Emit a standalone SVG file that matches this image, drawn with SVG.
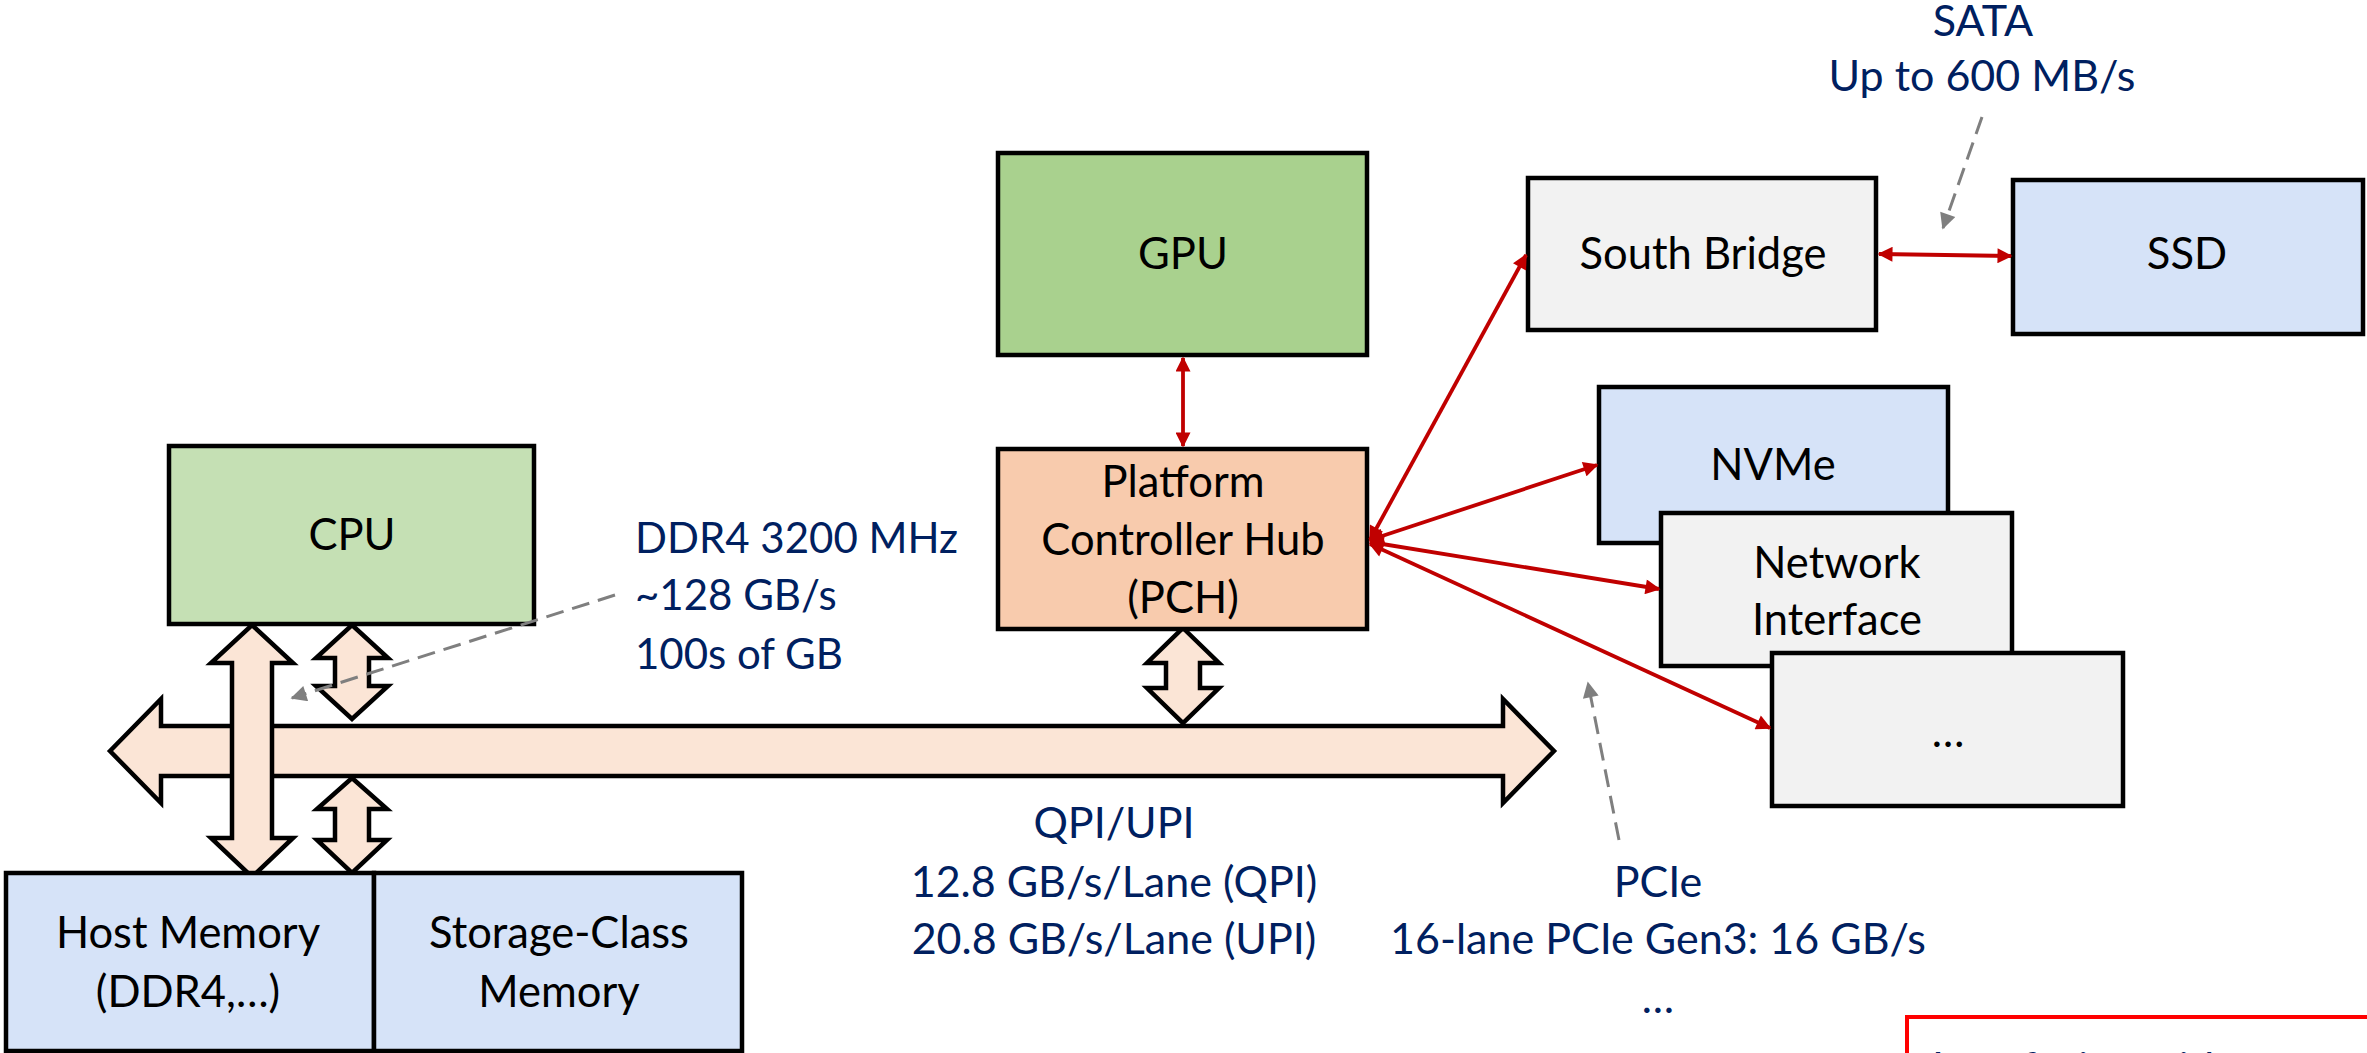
<svg xmlns="http://www.w3.org/2000/svg" width="2367" height="1053" viewBox="0 0 2367 1053">
  <defs>
    <style>
      .box { stroke: #000; stroke-width: 4.5; }
      .lbl { font-family: Lato, "Open Sans", sans-serif; font-size: 43.5px; fill: #000; text-anchor: middle; }
      .note { font-family: Lato, "Open Sans", sans-serif; font-size: 43px; fill: #002060; }
      .ddr { font-size: 42px; }
      .mid { text-anchor: middle; }
      .bus { fill: #FBE5D6; stroke: #000; stroke-width: 4.5; stroke-linejoin: miter; }
      .link { stroke: #C00000; stroke-width: 3.8; fill: none; marker-start: url(#redHead); marker-end: url(#redHead); }
      .hint { stroke: #7F7F7F; stroke-width: 3; stroke-dasharray: 18 9; fill: none; marker-end: url(#greyHead); }
    </style>
    <marker id="redHead" viewBox="0 0 10 10" refX="9" refY="5" markerWidth="17" markerHeight="15" markerUnits="userSpaceOnUse" orient="auto-start-reverse">
      <path d="M0,0 L10,5 L0,10 Z" fill="#C00000"/>
    </marker>
    <marker id="greyHead" viewBox="0 0 10 10" refX="9" refY="5" markerWidth="18" markerHeight="16" markerUnits="userSpaceOnUse" orient="auto">
      <path d="M0,0 L10,5 L0,10 Z" fill="#7F7F7F"/>
    </marker>
  </defs>

  <rect width="2367" height="1053" fill="#fff"/>

  <!-- system bus and block arrows -->
  <g id="buses">
    <polygon class="bus" points="110,751 161,699 161,726 1503,726 1503,699 1554,751 1503,803 1503,776 161,776 161,803"/>
    <polygon class="bus" points="252,625 293,663 272,663 272,838 293,838 252,877 211,838 232,838 232,663 211,663"/>
    <polygon class="bus" points="352,625 388,658 369,658 369,686 388,686 352,719 316,686 335,686 335,658 316,658"/>
    <polygon class="bus" points="352,778 387,809 369,809 369,840 387,840 352,873 317,840 335,840 335,809 317,809"/>
    <polygon class="bus" points="1183,628 1219,663 1200,663 1200,688 1219,688 1183,723 1147,688 1166,688 1166,663 1147,663"/>
  </g>

  <g id="cpu">
    <rect class="box" x="169" y="446" width="365" height="178" fill="#C5E0B4"/>
    <text class="lbl" x="352" y="550">CPU</text>
  </g>

  <g id="gpu">
    <rect class="box" x="998" y="153" width="369" height="202" fill="#A9D18E"/>
    <text class="lbl" x="1183" y="269">GPU</text>
  </g>

  <g id="pch">
    <rect class="box" x="998" y="449" width="369" height="180" fill="#F8CBAD"/>
    <text class="lbl" x="1183" y="497">Platform</text>
    <text class="lbl" x="1183" y="555">Controller Hub</text>
    <text class="lbl" x="1183" y="613">(PCH)</text>
  </g>

  <g id="south-bridge">
    <rect class="box" x="1528" y="178" width="348" height="152" fill="#F2F2F2"/>
    <text class="lbl" x="1703" y="269">South Bridge</text>
  </g>

  <g id="ssd">
    <rect class="box" x="2013" y="180" width="350" height="154" fill="#D6E3F8"/>
    <text class="lbl" x="2187" y="269">SSD</text>
  </g>

  <g id="nvme">
    <rect class="box" x="1599" y="387" width="349" height="156" fill="#D6E3F8"/>
    <text class="lbl" x="1773" y="480">NVMe</text>
  </g>

  <g id="network">
    <rect class="box" x="1661" y="513" width="351" height="153" fill="#F2F2F2"/>
    <text class="lbl" x="1837" y="578">Network</text>
    <text class="lbl" x="1837" y="635">Interface</text>
  </g>

  <g id="other-device">
    <rect class="box" x="1772" y="653" width="351" height="153" fill="#F2F2F2"/>
    <text class="lbl" x="1948" y="747">…</text>
  </g>

  <g id="host-memory">
    <rect class="box" x="6" y="873" width="368" height="178" fill="#D6E3F8"/>
    <text class="lbl" x="188" y="948">Host Memory</text>
    <text class="lbl" x="188" y="1007">(DDR4,…)</text>
  </g>

  <g id="scm">
    <rect class="box" x="374" y="873" width="368" height="178" fill="#D6E3F8"/>
    <text class="lbl" x="559" y="948">Storage-Class</text>
    <text class="lbl" x="559" y="1007">Memory</text>
  </g>

  <!-- point-to-point links -->
  <g id="connectors">
    <line class="link" x1="1183" y1="358" x2="1183" y2="446"/>
    <line class="link" x1="1370" y1="540" x2="1526" y2="255"/>
    <line class="link" x1="1370" y1="540" x2="1597" y2="465"/>
    <line class="link" x1="1370" y1="542" x2="1659" y2="589"/>
    <line class="link" x1="1370" y1="544" x2="1770" y2="728"/>
    <line class="link" x1="1879" y1="254" x2="2011" y2="256"/>
    <line class="hint" x1="615" y1="595" x2="292" y2="698"/>
    <line class="hint" x1="1982" y1="117" x2="1943" y2="228"/>
    <line class="hint" x1="1619" y1="840" x2="1588" y2="683"/>
  </g>

  <!-- bandwidth notes -->
  <g id="notes">
    <text class="note ddr" x="635" y="553">DDR4 3200 MHz</text>
    <text class="note ddr" x="635" y="610">~128 GB/s</text>
    <text class="note ddr" x="635" y="669">100s of GB</text>
    <text class="note mid" x="1983" y="36">SATA</text>
    <text class="note mid" x="1982" y="91">Up to 600 MB/s</text>
    <text class="note mid" x="1114" y="838">QPI/UPI</text>
    <text class="note mid" x="1114" y="897">12.8 GB/s/Lane (QPI)</text>
    <text class="note mid" x="1114" y="954">20.8 GB/s/Lane (UPI)</text>
    <text class="note mid" x="1658" y="897">PCIe</text>
    <text class="note mid" x="1658" y="954">16-lane PCIe Gen3: 16 GB/s</text>
    <text class="note mid" x="1658" y="1013">…</text>
  </g>

  <g id="callout">
    <rect x="1907" y="1017" width="520" height="120" fill="#fff" stroke="#FF0000" stroke-width="4"/>
    <text class="note" x="1932" y="1083" font-size="63">Interfacing with</text>
  </g>
</svg>
